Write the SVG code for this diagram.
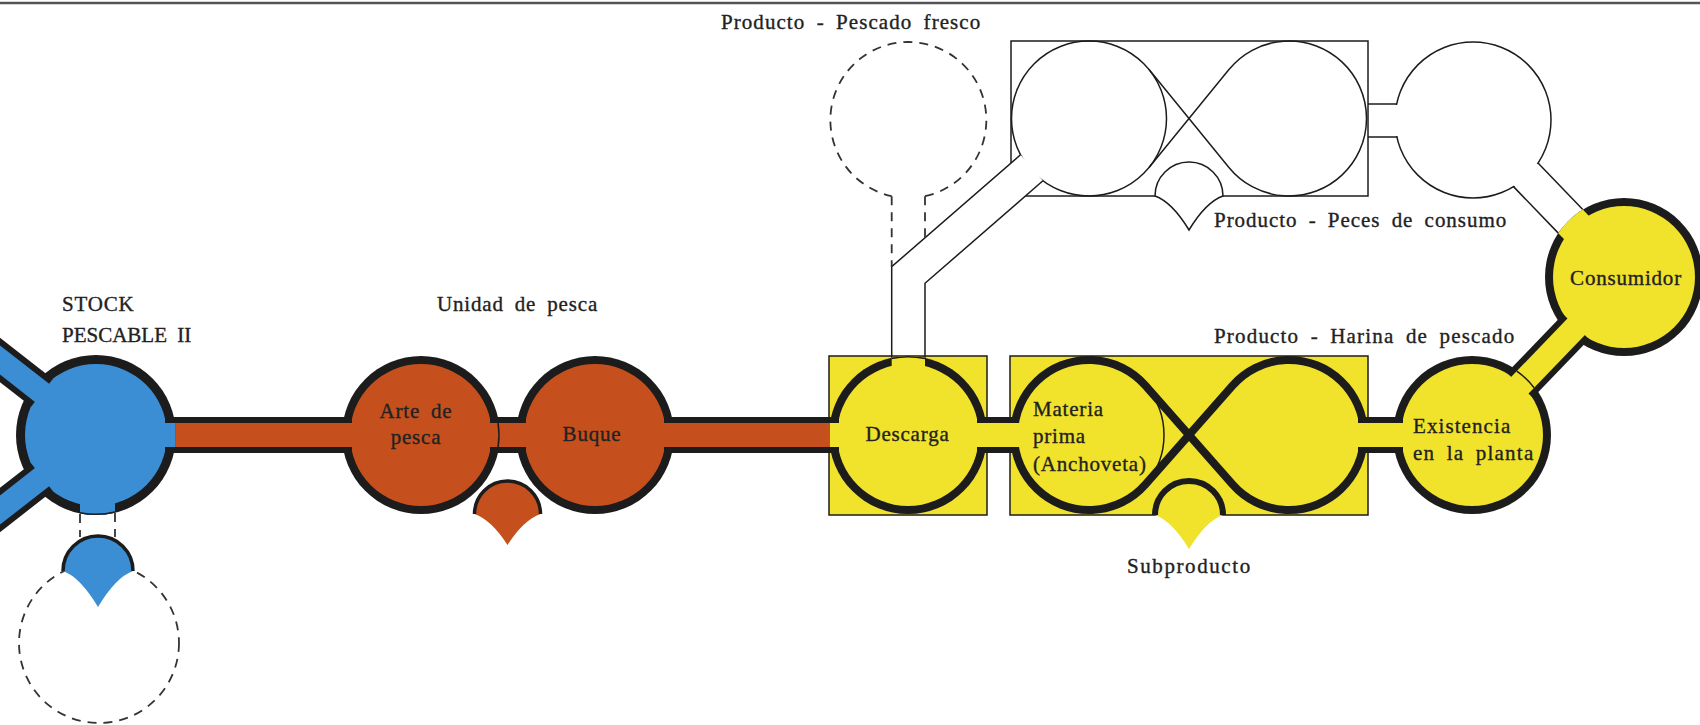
<svg xmlns="http://www.w3.org/2000/svg" width="1700" height="725" viewBox="0 0 1700 725">
<style>
.blk{fill:#1c1c1c}
.blue{fill:#3b8ed4}
.red{fill:#c5501d}
.yel{fill:#f1e22c}
.wht{fill:#ffffff}
.thin{fill:none;stroke:#1c1c1c;stroke-width:1.5}
.dash{fill:none;stroke:#333333;stroke-width:1.8;stroke-dasharray:9 7}
.ring{fill:none;stroke:#1c1c1c;stroke-width:8}
.cap{fill:none;stroke:#1c1c1c}
.box{stroke:#1c1c1c;stroke-width:1.5}
text{font-family:"Liberation Serif","Times New Roman",serif;font-size:21px;fill:#222222;stroke:#222222;stroke-width:0.35px;letter-spacing:0.8px;word-spacing:5px}
.mid{text-anchor:middle}
</style>
<rect width="1700" height="725" fill="#ffffff"/>
<line x1="0" y1="3" x2="1700" y2="3" stroke="#555555" stroke-width="2.5"/>

<!-- fish stock -->
<g id="stock">
  <circle cx="96" cy="435" r="80" class="blk"/>
  <circle cx="96" cy="435" r="71" class="blue"/>
  <text x="62" y="311">STOCK</text>
  <text x="62" y="342" textLength="130">PESCABLE II</text>
</g>

<!-- fishing unit -->
<g id="arte-de-pesca">
  <circle cx="421" cy="435" r="79" class="blk"/>
  <circle cx="421" cy="435" r="71" class="red"/>
  <text x="416" y="418" class="mid">Arte de</text>
  <text x="416" y="444" class="mid">pesca</text>
</g>
<g id="buque">
  <circle cx="595" cy="435" r="79" class="blk"/>
  <circle cx="595" cy="435" r="71" class="red"/>
  <text x="592" y="441" class="mid">Buque</text>
</g>
<text id="unidad-label" x="437" y="311" textLength="161">Unidad de pesca</text>

<!-- landing -->
<g id="descarga">
  <rect x="829" y="356" width="158" height="159" class="yel box"/>
  <circle cx="908" cy="435" r="79" class="blk"/>
  <circle cx="908" cy="435" r="71" class="yel"/>
  <text x="907.5" y="441" class="mid">Descarga</text>
</g>

<!-- meal plant -->
<g id="planta">
  <rect x="1010" y="356" width="358" height="159" class="yel box"/>
  <path d="M1145.25,385.4 L1232.75,484.6 A75,75 0 1 0 1232.75,385.4 L1145.25,484.6 A75,75 0 1 1 1145.25,385.4 Z" class="ring"/>
  <path d="M1145.25,385.4 A75,75 0 0 1 1145.25,484.6" class="thin"/>
  <text x="1033" y="416">Materia</text>
  <text x="1033" y="443">prima</text>
  <text x="1033" y="471">(Anchoveta)</text>
  <text x="1214" y="343" textLength="301">Producto - Harina de pescado</text>
</g>

<g id="existencia">
  <circle cx="1472" cy="435" r="79" class="blk"/>
  <circle cx="1472" cy="435" r="71" class="yel"/>
  <text x="1413" y="433" textLength="98">Existencia</text>
  <text x="1413" y="460" textLength="121">en la planta</text>
</g>

<g id="consumidor">
  <circle cx="1624" cy="277" r="79" class="blk"/>
  <circle cx="1624" cy="277" r="71" class="yel"/>
  <text x="1626" y="285" class="mid">Consumidor</text>
</g>

<!-- fresh fish branch -->
<g id="pescado-fresco">
  <path d="M925,196.2 A78,78 0 1 0 891.7,196.2" class="dash"/>
  <text x="721" y="29" textLength="260">Producto - Pescado fresco</text>
</g>

<!-- food fish plant -->
<g id="consumo">
  <rect x="1011" y="41" width="357" height="155" class="wht box"/>
  <circle cx="1089" cy="118.5" r="77.5" class="thin"/>
  <path d="M1149.06,69.52 L1228.94,167.48 M1228.94,69.52 L1149.06,167.48 M1228.94,69.52 A77.5,77.5 0 1 1 1228.94,167.48" class="thin"/>
  <text x="1214" y="227" textLength="293">Producto - Peces de consumo</text>
</g>
<g id="consumo-existencia">
  <circle cx="1473" cy="120" r="78" class="thin"/>
</g>

<!-- potential stock -->
<g id="stock-potencial">
  <circle cx="99" cy="643" r="80" class="dash"/>
</g>

<!-- losses / by-products -->
<g id="cusp-stock">
  <path d="M63,571 A35,35 0 0 1 133,571 Q116,577 98,607 Q80,577 63,571 Z" class="blue"/>
  <path d="M63,571 A35,35 0 0 1 133,571" class="cap" stroke-width="3.5"/>
</g>
<g id="cusp-unidad">
  <path d="M474.5,514 A33,33 0 0 1 540.5,514 Q523.5,520 507.5,545 Q491.5,520 474.5,514 Z" class="red"/>
  <path d="M474.5,514 A33,33 0 0 1 540.5,514" class="cap" stroke-width="3.5"/>
</g>
<g id="subproducto">
  <path d="M1155,515 A34,34 0 0 1 1223,515 Q1206,521 1189,549 Q1172,521 1155,515 Z" class="yel"/>
  <path d="M1155,515 A34,34 0 0 1 1223,515" class="cap" stroke-width="6"/>
  <text x="1127" y="573" textLength="124">Subproducto</text>
</g>
<g id="cusp-consumo">
  <path d="M1155,196 A34,34 0 0 1 1223,196 Q1206,202 1189,230 Q1172,202 1155,196 Z" fill="#ffffff" stroke="#1c1c1c" stroke-width="1.5"/>
</g>

<!-- pipes between nodes -->
<g id="connectors">
  <!-- arms of the stock leaving the frame -->
  <g transform="translate(96 435) rotate(218)">
    <rect x="68.5" y="-17.5" width="90" height="35" class="blk"/>
    <rect x="66" y="-11.5" width="93" height="23" class="blue"/>
  </g>
  <g transform="translate(96 435) rotate(142)">
    <rect x="68.5" y="-17.5" width="90" height="35" class="blk"/>
    <rect x="66" y="-11.5" width="93" height="23" class="blue"/>
  </g>

  <!-- stock to fishing gear -->
  <rect x="165" y="417" width="187" height="36" class="blk"/>
  <rect x="162" y="423" width="13.1" height="24" class="blue"/>
  <rect x="175.1" y="423" width="179.9" height="24" class="red"/>
  <!-- gear to vessel -->
  <rect x="490" y="417" width="36" height="36" class="blk"/>
  <rect x="487" y="423" width="42" height="24" class="red"/>
  <path d="M498.07,423 A78,78 0 0 1 498.07,447" class="thin"/>
  <!-- vessel to landing -->
  <rect x="664" y="417" width="175" height="36" class="blk"/>
  <rect x="661" y="423" width="168.9" height="24" class="red"/>
  <rect x="829.9" y="423" width="12.1" height="24" class="yel"/>
  <!-- landing to plant -->
  <rect x="977" y="417" width="41" height="36" class="blk"/>
  <rect x="974" y="423" width="47" height="24" class="yel"/>
  <!-- plant to stock in plant -->
  <rect x="1358" y="417" width="45" height="36" class="blk"/>
  <rect x="1357" y="423" width="49" height="24" class="yel"/>
  <!-- stock in plant to consumer -->
  <g transform="translate(1472 435) rotate(-46.1)">
    <rect x="69" y="-18" width="81.2" height="36" class="blk"/>
    <rect x="66" y="-12" width="87.2" height="24" class="yel"/>
    <path d="M77.07,-12 A78,78 0 0 1 77.07,12" class="thin"/>
  </g>

  <!-- opening under the stock towards the potential stock -->
  <path d="M80,490 L115,490 L115,512.7 A80,80 0 0 1 80,513.4 Z" class="blue"/>
  <path d="M115,512 A79.3,79.3 0 0 1 80,512.7" class="thin"/>
  <path d="M80,514 V537 M115,513 V537" class="dash"/>

  <!-- landing to food fish plant -->
  <polygon points="891.7,355 891.7,266.7 1020.5,154.8 1042.9,180.8 925,283.3 925,355" class="wht"/>
  <path d="M891.7,357.7 V266.7 L1020.5,154.8 M925,357.85 V283.3 L1042.9,180.8" class="thin"/>
  <path d="M891.7,357.7 A79,79 0 0 1 925,357.85 L925,380 L891.7,380 Z" class="yel"/>
  <path d="M891.7,358.4 A78.3,78.3 0 0 1 925,358.5" class="thin"/>
  <path d="M891.7,196.2 V266.7 M925,196.2 V237.8" class="dash"/>

  <!-- food fish plant to its stock -->
  <rect x="1393" y="105" width="8" height="31" class="wht"/>
  <path d="M1368,104 H1396.66 M1368,137 H1396.87" class="thin"/>

  <!-- food fish stock to consumer -->
  <g transform="translate(1473 120) rotate(46.1)">
    <rect x="72" y="-16" width="8" height="32" class="wht"/>
    <path d="M76.1,-17 H140.65 M76.1,17 H140.65" class="thin"/>
    <path d="M140.65,-17 H160 V17 H140.65 A79,79 0 0 1 140.65,-17 Z" class="yel"/>
  </g>
</g>
</svg>
